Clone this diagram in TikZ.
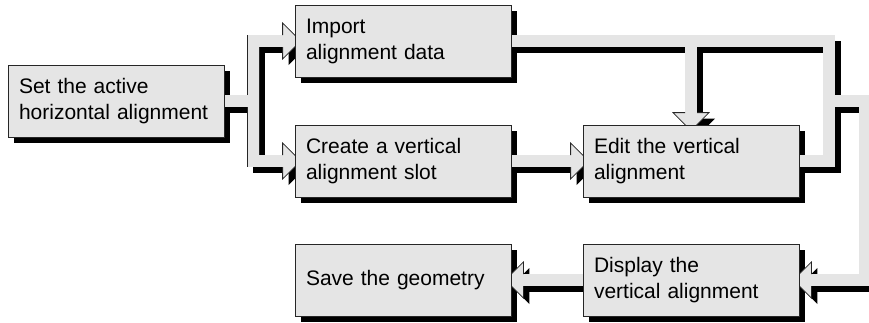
\documentclass[tikz,border=0pt]{standalone}
\usepackage{fontspec}
\setmainfont{Liberation Sans}
\usetikzlibrary{calc, backgrounds}

% fat connector paths, drawn three times (shade, rim, core)
\newcommand{\pipes}{%
  (act.east) -- (fork) |- ($(imp.west)+(-10,0)$)
  (fork) |- ($(slot.west)+(-10,0)$)
  (slot.east) -- ($(edit.west)+(-10,0)$)
  (imp.east) -- (ne)
  (edit.east) -| (ne) -| ($(edit.north)+(0,-10)$)
  (jn) -- (jr) |- ($(disp.east)+(10,0)$)
  (disp.west) -- ($(save.east)+(10,0)$)}
% block arrow head: #1 tip anchor, #2 angle, #3 style
\newcommand{\headat}[3]{%
  \path[#3, shift={(#1)}, rotate=#2] (-12,6) -- (-12,18) -- (6,0) -- (-12,-18) -- (-12,-6);}

\begin{document}
\begin{tikzpicture}[
  x=1pt, y=-1pt,
  font=\fontsize{21}{26}\selectfont,
  stepbox/.style={draw=black!85, fill=black!10, line width=0.8pt, align=left,
                  text width=194pt, inner xsep=11pt, inner ysep=0pt, minimum height=72pt},
  shade/.style={transform canvas={shift={(6,6)}}},
  pipeshade/.style={draw=black, line width=12pt, line join=miter},
  piperim/.style={draw=black!85, line width=12.8pt, line join=miter},
  pipecore/.style={draw=black!10, line width=11.2pt, line join=miter},
  headshade/.style={fill=black},
  headfill/.style={fill=black!10, draw=black!85, line width=0.8pt, line join=miter},
]
\useasboundingbox (0,0) rectangle (869,322);

% ---- steps ----
\node[stepbox] (act)  at (116,101) {Set the active\\horizontal alignment};
\node[stepbox] (imp)  at (403,41)  {Import\\alignment data};
\node[stepbox] (slot) at (403,161) {Create a vertical\\alignment slot};
\node[stepbox] (edit) at (691,161) {Edit the vertical\\alignment};
\node[stepbox] (disp) at (691,280) {Display the\\vertical alignment};
\node[stepbox] (save) at (403,280) {Save the geometry};

% ---- bends of the connectors ----
\coordinate (fork) at ($(act.east)+(29,0)$);
\coordinate (ne) at (829,41);
\coordinate (jn) at (829,101);
\coordinate (jr) at (865,101);

\begin{scope}[on background layer]
  % shadows
  \foreach \b in {act,imp,slot,edit,disp,save}
    \fill[shade] (\b.south west) rectangle (\b.north east);
  \draw[shade, pipeshade] \pipes;
  \begin{scope}[shade]
    \headat{imp.west}{0}{headshade}
    \headat{slot.west}{0}{headshade}
    \headat{edit.west}{0}{headshade}
    \headat{edit.north}{-90}{headshade}
    \headat{disp.east}{180}{headshade}
    \headat{save.east}{180}{headshade}
  \end{scope}
  % connectors
  \draw[piperim] \pipes;
  \draw[pipecore] \pipes;
  \headat{imp.west}{0}{headfill}
  \headat{slot.west}{0}{headfill}
  \headat{edit.west}{0}{headfill}
  \headat{edit.north}{-90}{headfill}
  \headat{disp.east}{180}{headfill}
  \headat{save.east}{180}{headfill}
\end{scope}
\end{tikzpicture}
\end{document}
